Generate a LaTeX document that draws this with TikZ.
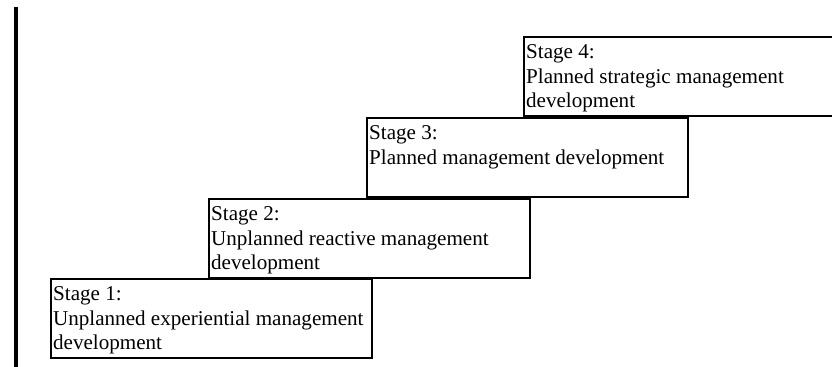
\documentclass[tikz,border=0pt]{standalone}
\usepackage{fontspec}
\setmainfont{Liberation Serif}
\usetikzlibrary{positioning}

\begin{document}
\begin{tikzpicture}[
    stagebox/.style={draw, line width=1pt, anchor=south west, minimum width=6.42cm, minimum height=1.58cm, inner sep=0pt},
    stagetext/.style={anchor=north west, align=left, inner xsep=1.6pt, inner ysep=4.6pt, font=\fontsize{12}{13.9}\selectfont}
]
    \useasboundingbox (0, 0) rectangle (16.64, 7.34);

    % axis on the left
    \coordinate (axtop) at (0.31, 7.19);
    \coordinate (axbot) at (0.31, -0.1);
    \draw[line width=0.08cm] (axtop) -- (axbot);

    % staircase of stages, each step 3.16cm right and 1.62cm up
    \node[stagebox] (s1) at (1.00, 0.16) {};
    \node[stagetext] (t1) at (s1.north west) {Stage 1:\\Unplanned experiential management\\development};

    \node[stagebox] (s2) at (4.16, 1.76) {};
    \node[stagetext] (t2) at (s2.north west) {Stage 2:\\Unplanned reactive management\\development};

    \node[stagebox] (s3) at (7.32, 3.38) {};
    \node[stagetext] (t3) at (s3.north west) {Stage 3:\\Planned management development};

    \node[stagebox] (s4) at (10.46, 5.00) {};                                  % runs past the right margin
    \node[stagetext] (t4) at (s4.north west) {Stage 4:\\Planned strategic management\\development};
\end{tikzpicture}
\end{document}
